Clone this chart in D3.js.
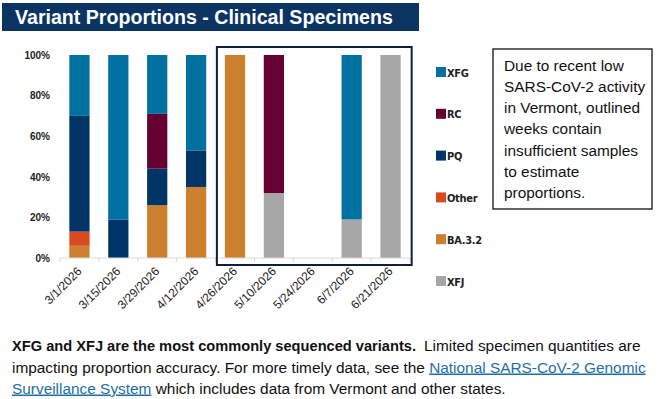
<!DOCTYPE html>
<html>
<head>
<meta charset="utf-8">
<script src="https://cdn.jsdelivr.net/npm/d3@7"></script>
<style>
  body { margin: 0; background: #fff; }
  svg { display: block; font-family: "Liberation Sans", Arial, sans-serif; }
</style>
</head>
<body>
<svg id="chart" width="658" height="399"></svg>
<script>
// Weeks shown on the x-axis
var weeks = ["3/1/2026", "3/15/2026", "3/29/2026", "4/12/2026", "4/26/2026",
             "5/10/2026", "5/24/2026", "6/7/2026", "6/21/2026"];

// Variants, bottom of stack first
var variants = ["XFJ", "BA.3.2", "Other", "PQ", "RC", "XFG"];
var variantColors = ["#a6a6a6", "#cc7f2c", "#d94a21", "#003366", "#660033", "#0070a0"];

// Proportion (%) of each variant per week
var xfj   = [0,  0,  0,  0,  0,   32, 0, 19, 100];
var ba32  = [6,  0,  26, 35, 100, 0,  0, 0,  0];
var other = [7,  0,  0,  0,  0,   0,  0, 0,  0];
var pq    = [57, 19, 18, 18, 0,   0,  0, 0,  0];
var rc    = [0,  0,  27, 0,  0,   68, 0, 0,  0];
var xfg   = [30, 81, 29, 47, 0,   0,  0, 81, 0];

var yTicks = [0, 20, 40, 60, 80, 100];
// first and last weeks of the outlined (low sample) range
var outlinedWeeks = ["4/26/2026", "6/21/2026"];

var seriesValues = [xfj, ba32, other, pq, rc, xfg];
var rows = weeks.map(function(w, i) {
    var r = {week: w};
    variants.forEach(function(v, j) { r[v] = seriesValues[j][i]; });
    return r;
});

var svg = d3.select("#chart");
var padding = {top: 55, right: 248, bottom: 141, left: 60};
var width = 658, height = 399;

// Title banner
svg.append("rect")
   .attr("x", 2).attr("y", 3)
   .attr("width", 417).attr("height", 28)
   .attr("fill", "#0b3462");
svg.append("text")
   .attr("x", 15).attr("y", 24)
   .attr("fill", "#fff")
   .attr("font-size", 19.6)
   .attr("font-weight", "bold")
   .text("Variant Proportions - Clinical Specimens");

var xScale = d3.scaleBand()
               .domain(weeks)
               .range([padding.left, width - padding.right])
               .paddingInner(0.48)
               .paddingOuter(0.24);

var yScale = d3.scaleLinear()
               .domain([0, 100])
               .range([height - padding.bottom, padding.top]);

var stack = d3.stack().keys(variants);
var layers = stack(rows);

var color = d3.scaleOrdinal().domain(variants).range(variantColors);

svg.selectAll(".layer")
   .data(layers)
   .enter()
   .append("g")
   .classed("layer", true)
   .attr("fill", function(d) { return color(d.key); })
   .selectAll("rect")
   .data(function(d) { return d; })
   .enter()
   .append("rect")
   .attr("x", function(d) { return xScale(d.data.week); })
   .attr("width", xScale.bandwidth())
   .attr("y", function(d) { return yScale(d[1]); })
   .attr("height", function(d) { return yScale(d[0]) - yScale(d[1]); });

// x-axis with ticks between categories
var xAxisG = svg.append("g")
                .attr("transform", "translate(0," + (height - padding.bottom) + ")");
xAxisG.append("line")
      .attr("x1", padding.left).attr("x2", width - padding.right)
      .attr("stroke", "#d9d9d9");
d3.range(weeks.length + 1).forEach(function(i) {
    var x = padding.left + i * xScale.step();
    xAxisG.append("line")
          .attr("x1", x).attr("x2", x)
          .attr("y1", 0).attr("y2", 4)
          .attr("stroke", "#d9d9d9");
});
xAxisG.selectAll(".xlabel")
      .data(weeks)
      .enter()
      .append("text")
      .attr("transform", function(d) {
          return "translate(" + (xScale(d) + xScale.bandwidth() / 2 + 3) + ",14) rotate(-45)";
      })
      .attr("text-anchor", "end")
      .attr("font-size", 12)
      .attr("fill", "#222")
      .text(function(d) { return d; });

// y-axis labels, no line
var yAxis = d3.axisLeft(yScale)
              .tickValues(yTicks)
              .tickSize(0)
              .tickPadding(10)
              .tickFormat(function(d) { return d + "%"; });
var yAxisG = svg.append("g")
                .attr("transform", "translate(" + padding.left + ",0)")
                .call(yAxis);
yAxisG.select(".domain").remove();
yAxisG.selectAll("text")
      .attr("font-size", 10)
      .attr("font-weight", "bold")
      .attr("font-family", "'Liberation Sans', Arial, sans-serif")
      .attr("fill", "#222");

// outline box around low-sample weeks
var boxLeft = xScale(outlinedWeeks[0]) - 8;
var boxRight = xScale(outlinedWeeks[1]) + xScale.bandwidth() + 11;
svg.append("rect")
   .attr("x", boxLeft).attr("y", 47)
   .attr("width", boxRight - boxLeft)
   .attr("height", 218)
   .attr("fill", "none")
   .attr("stroke", "#0d1f3c")
   .attr("stroke-width", 2);

// legend, top of stack first
var legendKeys = variants.slice().reverse();
var legend = svg.selectAll(".legend")
                .data(legendKeys)
                .enter()
                .append("g")
                .classed("legend", true)
                .attr("transform", function(d, i) { return "translate(436," + (67 + i * 41.8) + ")"; });
legend.append("rect")
      .attr("width", 10).attr("height", 10)
      .attr("fill", function(d) { return color(d); });
legend.append("text")
      .attr("x", 11).attr("y", 9.5)
      .attr("font-size", 11)
      .attr("font-weight", "bold")
      .attr("font-family", "'DejaVu Sans Condensed', 'Liberation Sans Narrow', sans-serif")
      .attr("letter-spacing", -0.3)
      .attr("fill", "#222")
      .text(function(d) { return d; });

// note box
svg.append("rect")
   .attr("x", 493).attr("y", 49)
   .attr("width", 159).attr("height", 160)
   .attr("fill", "#fff")
   .attr("stroke", "#111")
   .attr("stroke-width", 1.3);
var noteLines = ["Due to recent low", "SARS-CoV-2 activity", "in Vermont, outlined",
                 "weeks contain", "insufficient samples", "to estimate", "proportions."];
svg.append("text")
   .attr("font-size", 15.4)
   .attr("fill", "#111")
   .selectAll("tspan")
   .data(noteLines)
   .enter()
   .append("tspan")
   .attr("x", 504)
   .attr("y", function(d, i) { return 70.5 + i * 21.3; })
   .text(function(d) { return d; });

// footnote
svg.append("text")
   .attr("x", 12).attr("y", 351)
   .attr("font-size", 15.4)
   .attr("font-weight", "bold")
   .attr("textLength", 404)
   .attr("lengthAdjust", "spacingAndGlyphs")
   .attr("fill", "#111")
   .text("XFG and XFJ are the most commonly sequenced variants.");
var foot = svg.append("text")
              .attr("font-size", 15.4)
              .attr("fill", "#111");
foot.append("tspan")
    .attr("x", 424).attr("y", 351)
    .text("Limited specimen quantities are");
foot.append("tspan")
    .attr("x", 12).attr("y", 372.5)
    .text("impacting proportion accuracy. For more timely data, see the ");
foot.append("tspan")
    .attr("fill", "#1f6fa3")
    .attr("text-decoration", "underline")
    .text("National SARS-CoV-2 Genomic");
foot.append("tspan")
    .attr("x", 12).attr("y", 393.5)
    .attr("fill", "#1f6fa3")
    .attr("text-decoration", "underline")
    .text("Surveillance System");
foot.append("tspan")
    .text(" which includes data from Vermont and other states.");
</script>
</body>
</html>
